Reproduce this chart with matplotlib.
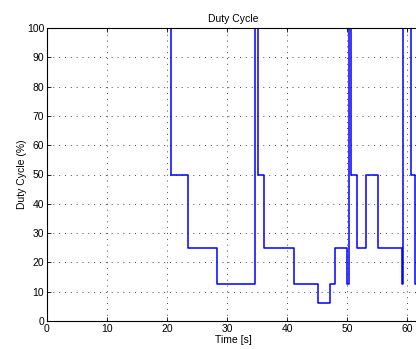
import numpy as np
import matplotlib
matplotlib.use("Agg")
import matplotlib.pyplot as plt

# Step data (value holds until the next time)
times = [0, 20.6, 23.55, 28.4, 34.6, 35.2, 36.2, 41.2, 45.1, 47.1, 48.05,
         50.0, 50.3, 50.7, 51.7, 53.2, 55.1, 59.1, 59.3, 60.6, 61.4, 62]
duty = [100, 50, 25, 12.5, 100, 50, 25, 12.5, 6.25, 12.5, 25,
        12.5, 100, 50, 25, 50, 25, 12.5, 100, 50, 12.5, 12.5]

xticks = [0, 10, 20, 30, 40, 50, 60]
yticks = [0, 10, 20, 30, 40, 50, 60, 70, 80, 90, 100]

plt.rcParams['font.family'] = ['Liberation Sans', 'DejaVu Sans']
plt.rcParams['font.size'] = 7.5

fig = plt.figure(figsize=(4.16, 3.49), dpi=100)
ax = fig.add_axes([47/416, 28/349, 372/416, 293/349])

ax.plot(times, duty, drawstyle='steps-post', color='#0000ff', lw=1.1)

ax.set_xlim(0, 62)
ax.set_ylim(0, 100)
ax.set_xticks(xticks)
ax.set_yticks(yticks)
ax.grid(True, linestyle=(0, (1, 5)), color='#444444', lw=0.7)
ax.tick_params(direction='in', top=True, right=True, length=3, width=0.6, pad=2)
for s in ax.spines.values():
    s.set_linewidth(0.8)

ax.set_title('Duty Cycle', fontsize=7.5, pad=4)
ax.set_xlabel('Time [s]', labelpad=1)
ax.set_ylabel('Duty Cycle (%)', labelpad=0)

fig.savefig('out.png', dpi=100)
